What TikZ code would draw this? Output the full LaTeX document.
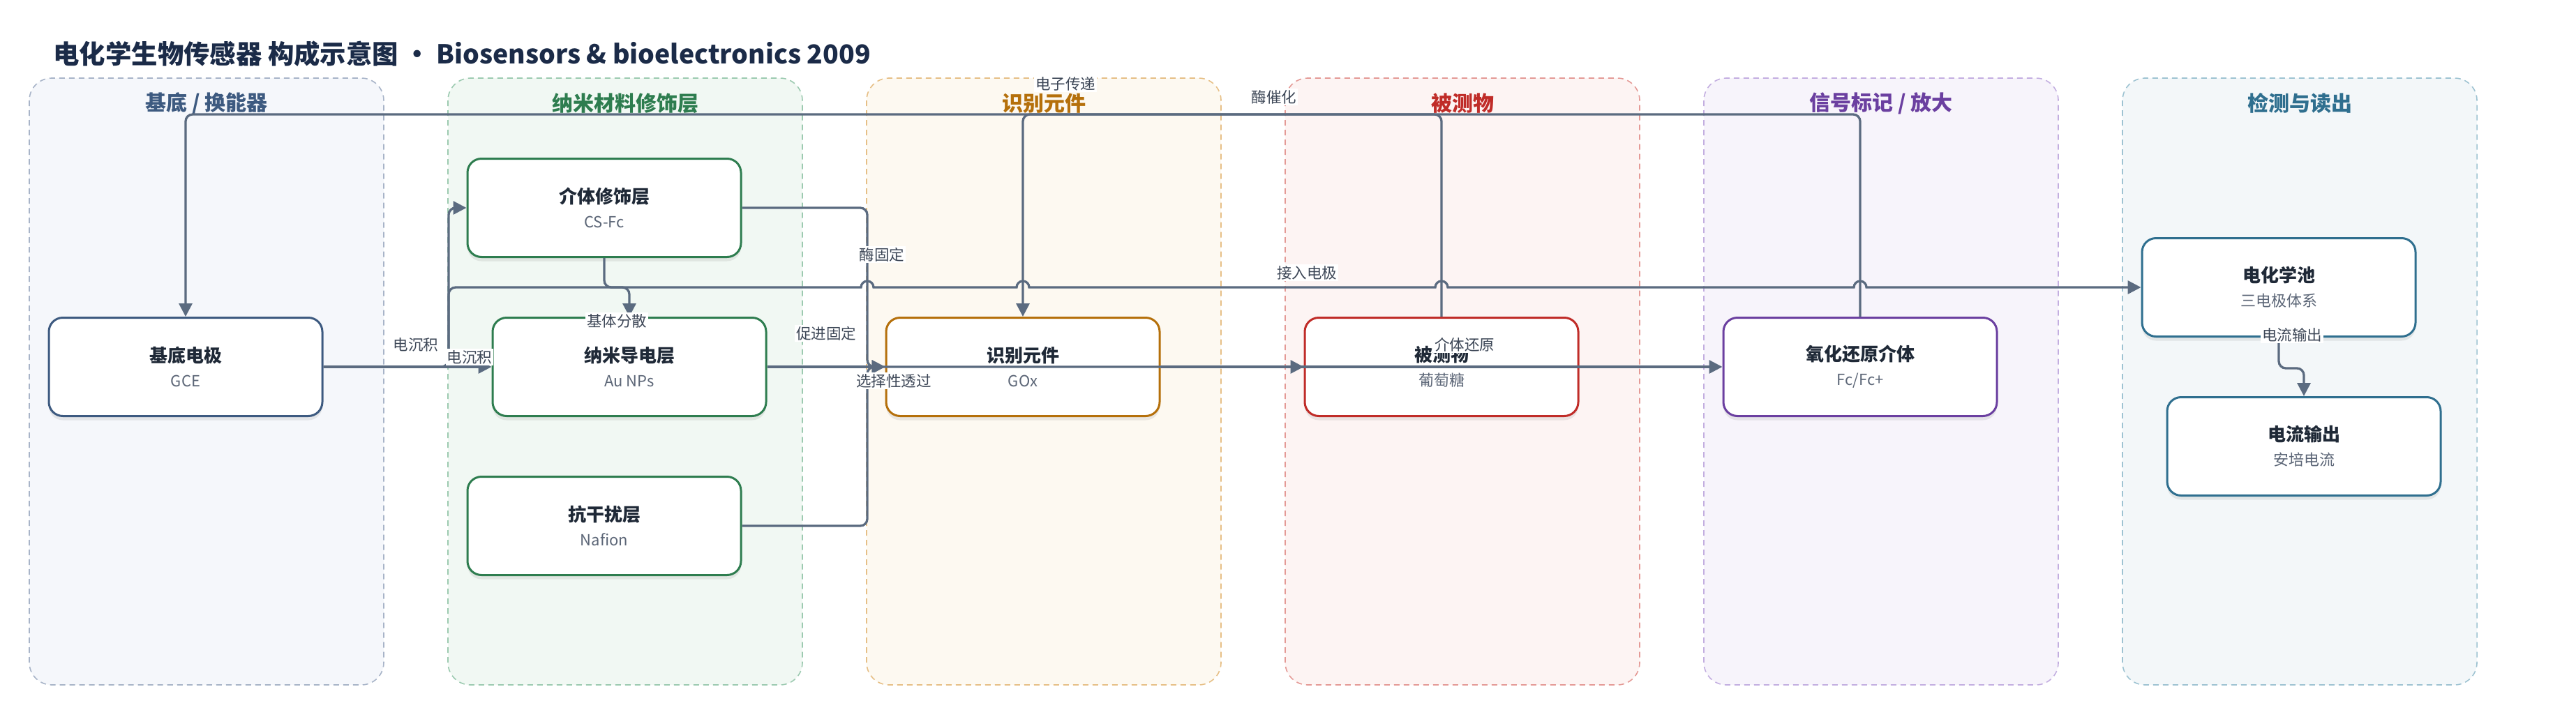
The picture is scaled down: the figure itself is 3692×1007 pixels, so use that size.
\documentclass[tikz,border=0pt]{standalone}
\usepackage{fontspec}
\setmainfont{Noto Sans CJK SC}
\usetikzlibrary{arrows.meta,shadows}

\definecolor{edgec}{RGB}{91,107,128}
\definecolor{titlec}{RGB}{27,43,72}
\definecolor{textc}{RGB}{31,41,55}
\definecolor{subc}{RGB}{92,102,119}
\definecolor{lblc}{RGB}{60,70,86}
\definecolor{laneA}{RGB}{61,90,128}  \definecolor{fillA}{RGB}{245,247,251} \definecolor{bordA}{RGB}{168,180,200}
\definecolor{laneB}{RGB}{46,125,79}  \definecolor{fillB}{RGB}{241,248,243} \definecolor{bordB}{RGB}{156,202,176}
\definecolor{laneC}{RGB}{181,112,11} \definecolor{fillC}{RGB}{253,249,241} \definecolor{bordC}{RGB}{230,191,134}
\definecolor{laneD}{RGB}{192,44,40}  \definecolor{fillD}{RGB}{253,244,243} \definecolor{bordD}{RGB}{228,154,150}
\definecolor{laneE}{RGB}{107,63,160} \definecolor{fillE}{RGB}{247,244,251} \definecolor{bordE}{RGB}{195,174,224}
\definecolor{laneF}{RGB}{47,111,143} \definecolor{fillF}{RGB}{243,247,249} \definecolor{bordF}{RGB}{158,195,210}

\newcommand{\twoline}[2]{{\bfseries\color{textc}#1}\\{\fontsize{11}{17.5}\selectfont\color{subc}#2}}

\tikzset{
  lane/.style={line width=0.8pt, dash pattern=on 4pt off 3pt, rounded corners=16pt},
  lanetitle/.style={font=\fontsize{15}{18}\selectfont\bfseries},
  box/.style={draw, fill=white, line width=1.5pt, rounded corners=10pt,
    minimum width=196pt, minimum height=70.5pt, align=center,
    font=\fontsize{13}{17.5}\selectfont,
    drop shadow={shadow xshift=0pt, shadow yshift=-3pt, opacity=0.15}},
  flow/.style={draw=edgec, line width=1.65pt, rounded corners=5pt,
    -{Triangle[length=9.5pt,width=9.5pt]}},
  lbl/.style={fill=white, inner sep=1pt, text=lblc, font=\fontsize{10.75}{12}\selectfont}
}

\begin{document}
\begin{tikzpicture}[x=0.5pt,y=-0.5pt]
  \useasboundingbox (0,0) rectangle (3692,1007);

  \node[anchor=west, inner sep=0pt, text=titlec, font=\fontsize{18.7}{22}\selectfont\bfseries]
    (title) at (76,77) {电化学生物传感器 构成示意图 · Biosensors \& bioelectronics 2009};

  \foreach \i/\col/\ttl in {0/A/{基底 / 换能器}, 1/B/纳米材料修饰层, 2/C/识别元件,
                            3/D/被测物, 4/E/{信号标记 / 放大}, 5/F/检测与读出} {
    \draw[lane, draw=bord\col, fill=fill\col] (42+600*\i,112) rectangle ++(508,870);
    \node[lanetitle, text=lane\col] (lane\col) at (296+600*\i,148) {\ttl};
  }

  \node[box, draw=laneA] (gce)  at (266,526)  {\twoline{基底电极}{GCE}};
  \node[box, draw=laneB] (med)  at (866,298)  {\twoline{介体修饰层}{CS-Fc}};
  \node[box, draw=laneB] (aunp) at (902,526)  {\twoline{纳米导电层}{Au NPs}};
  \node[box, draw=laneB] (naf)  at (866,754)  {\twoline{抗干扰层}{Nafion}};
  \node[box, draw=laneC] (gox)  at (1466,526) {\twoline{识别元件}{GOx}};
  \node[box, draw=laneD] (glu)  at (2066,526) {\twoline{被测物}{葡萄糖}};
  \node[box, draw=laneE] (fc)   at (2666,526) {\twoline{氧化还原介体}{Fc/Fc+}};
  \node[box, draw=laneF] (cell) at (3266,412) {\twoline{电化学池}{三电极体系}};
  \node[box, draw=laneF] (iout) at (3302,640) {\twoline{电流输出}{安培电流}};

  \draw[flow] (gce) -- (aunp);
  \draw[flow] (gce.east) -- (643,526) |- (med.west);
  \draw[flow] (gce.east) -- (643,526) -- (643,412) -- (700,412) [sharp corners]
    foreach \hx in {1243,1466,2066,2666} { -- (\hx-9,412) arc[start angle=180,end angle=360,radius=9] }
    -- (cell.west);
  \draw[flow] (med.south) -- (866,412) -| (aunp.north);
  \draw[flow] (med.east) -| (1243,526) -- (gox.west);
  \draw[flow] (aunp) -- (gox);
  \draw[flow] (naf.east) -| (1243,526) -- (glu.west);
  \draw[flow] (gox.east) -- (fc.west);
  \draw[flow] (glu.north) -- (2066,164) -| (gox.north);
  \draw[flow] (fc.north) -- (2666,164) -| (gce.north);
  \draw[flow] (cell.south) -- (3266,528) -| (iout.north);

  \node[lbl] (l1)  at (596,494)  {电沉积};
  \node[lbl] (l2)  at (673,512)  {电沉积};
  \node[lbl] (l3)  at (884,460)  {基体分散};
  \node[lbl] (l4)  at (1264,365) {酶固定};
  \node[lbl] (l5)  at (1184,478) {促进固定};
  \node[lbl] (l6)  at (1281,546) {选择性透过};
  \node[lbl] (l7)  at (1873,391) {接入电极};
  \node[lbl] (l8)  at (1527,120) {电子传递};
  \node[lbl] (l9)  at (1826,139) {酶催化};
  \node[lbl] (l10) at (2099,494) {介体还原};
  \node[lbl] (l11) at (3285,480) {电流输出};
\end{tikzpicture}
\end{document}
